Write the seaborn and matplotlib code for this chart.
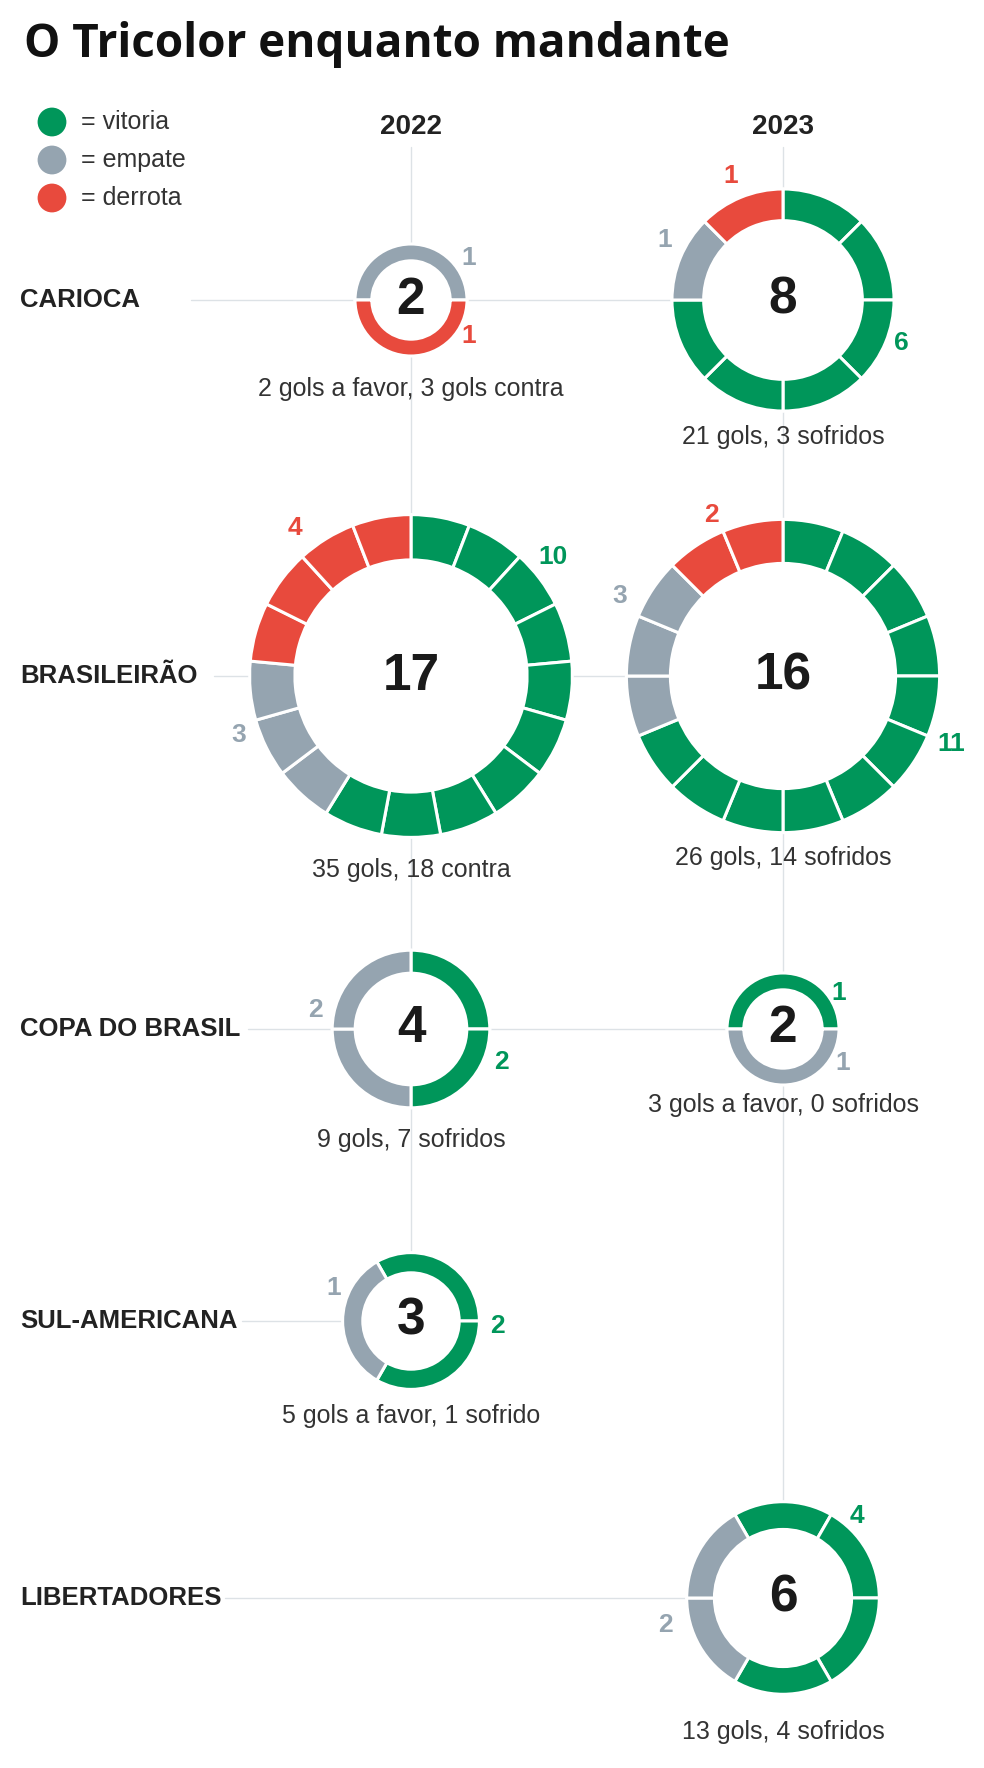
import numpy as np
import pandas as pd
import matplotlib.pyplot as plt
import seaborn as sns

# data
competitions = ["CARIOCA", "BRASILEIRÃO", "COPA DO BRASIL", "SUL-AMERICANA", "LIBERTADORES"]
seasons = ["2022", "2023"]
results = ["vitoria", "empate", "derrota"]

wins_2022 = [0, 10, 2, 2, 0]
draws_2022 = [1, 3, 2, 1, 0]
losses_2022 = [1, 4, 0, 0, 0]
wins_2023 = [6, 11, 1, 0, 4]
draws_2023 = [1, 3, 1, 0, 2]
losses_2023 = [1, 2, 0, 0, 0]

goals_2022 = ["2 gols a favor, 3 gols contra", "35 gols, 18 contra", "9 gols, 7 sofridos",
              "5 gols a favor, 1 sofrido", None]
goals_2023 = ["21 gols, 3 sofridos", "26 gols, 14 sofridos", "3 gols a favor, 0 sofridos",
              None, "13 gols, 4 sofridos"]

colors = {"vitoria": "#00965a", "empate": "#95a4b0", "derrota": "#e84a3d"}

rows = []
for season, w, d, l in [("2022", wins_2022, draws_2022, losses_2022),
                        ("2023", wins_2023, draws_2023, losses_2023)]:
    for i, comp in enumerate(competitions):
        for res, val in zip(results, [w[i], d[i], l[i]]):
            rows.append({"competition": comp, "season": season, "result": res, "games": val})
df = pd.DataFrame(rows)

# layout (pixels, measured from top)
W, H = 984, 1768
col_x = {"2022": 411, "2023": 783}
row_y = dict(zip(competitions, [300, 676, 1029, 1321, 1598]))
line_start = dict(zip(competitions, [191, 214, 248, 242, 225]))
radius_k = 38.9
ring_frac = 0.27

start_clock = {("CARIOCA", "2022"): 270, ("COPA DO BRASIL", "2022"): 0,
               ("COPA DO BRASIL", "2023"): 270, ("SUL-AMERICANA", "2022"): 330,
               ("LIBERTADORES", "2023"): 330}
# label (clock angle, distance from centre)
label_pos = {
    ("CARIOCA", "2022"): {"empate": (54, 71), "derrota": (122, 68)},
    ("CARIOCA", "2023"): {"derrota": (337, 135), "empate": (297, 133), "vitoria": (110, 126)},
    ("BRASILEIRÃO", "2022"): {"derrota": (322, 188), "vitoria": (50, 185), "empate": (251, 182)},
    ("BRASILEIRÃO", "2023"): {"derrota": (336, 176), "empate": (296, 182), "vitoria": (112, 182)},
    ("COPA DO BRASIL", "2022"): {"empate": (281, 97), "vitoria": (110, 96)},
    ("COPA DO BRASIL", "2023"): {"vitoria": (57, 66), "empate": (120, 69)},
    ("SUL-AMERICANA", "2022"): {"empate": (293, 84), "vitoria": (93, 87)},
    ("LIBERTADORES", "2023"): {"vitoria": (42, 111), "empate": (257, 121)},
}
caption_gap = {("CARIOCA", "2022"): 34, ("CARIOCA", "2023"): 27, ("BRASILEIRÃO", "2022"): 34,
               ("BRASILEIRÃO", "2023"): 26, ("COPA DO BRASIL", "2022"): 33,
               ("COPA DO BRASIL", "2023"): 21, ("SUL-AMERICANA", "2022"): 28,
               ("LIBERTADORES", "2023"): 39}

NARROW = ["Liberation Sans Narrow", "Liberation Sans", "DejaVu Sans"]
WIDE = ["Liberation Sans", "DejaVu Sans"]
line_col = "#dde2e6"


def Y(y):
    return H - y


sns.set_theme(style="white")
plt.rcParams["font.family"] = NARROW

fig = plt.figure(figsize=(W / 100, H / 100), dpi=100)
ax = fig.add_axes([0, 0, 1, 1])

# title and legend
ax.text(24, Y(45), "O Tricolor enquanto mandante", fontsize=33, fontweight="bold",
        family=["Open Sans", "DejaVu Sans"], color="#111111", va="center", ha="left")
leg = pd.DataFrame({"x": [52, 52, 52], "y": [Y(122), Y(160), Y(198)], "result": results})
sns.scatterplot(data=leg, x="x", y="y", hue="result", palette=colors, s=430,
                linewidth=0, legend=False, ax=ax, zorder=5)
for _, r in leg.iterrows():
    ax.text(81, r["y"], "= " + r["result"], fontsize=18, color="#333333", va="center")

for season in seasons:
    ax.text(col_x[season], Y(127), season, fontsize=20, fontweight="bold", family=WIDE,
            color="#222222", ha="center", va="center")

# connector lines
for season in seasons:
    sub = df[(df.season == season)].groupby("competition", sort=False)["games"].sum()
    last = [c for c in competitions if sub[c] > 0][-1]
    ax.plot([col_x[season]] * 2, [Y(147), Y(row_y[last])], color=line_col, lw=1, zorder=1)

for comp in competitions:
    sub = df[df.competition == comp].groupby("season")["games"].sum()
    last = [s for s in seasons if sub[s] > 0][-1]
    ax.plot([line_start[comp], col_x[last]], [Y(row_y[comp])] * 2, color=line_col, lw=1, zorder=1)
    ax.text(20, Y(row_y[comp]), comp, fontsize=18.5, fontweight="bold", family=WIDE,
            color="#222222", va="center", ha="left")

# rings
for (comp, season), g in df.groupby(["competition", "season"], sort=False):
    n = g["games"].sum()
    if n == 0:
        continue
    cx, cy = col_x[season], Y(row_y[comp])
    r = radius_k * np.sqrt(n)
    seg_colors = []
    for res, val in zip(g["result"], g["games"]):
        seg_colors += [colors[res]] * int(val)
    ax.add_patch(plt.Circle((cx, cy), r, color="white", zorder=2))
    start = 90 - start_clock.get((comp, season), 0)
    ax.pie([1] * n, colors=seg_colors, startangle=start, counterclock=False,
           center=(cx, cy), radius=r + 1,
           wedgeprops=dict(width=r * ring_frac + 2, edgecolor="white", linewidth=2.2, zorder=3))
    ax.text(cx, cy, str(n), fontsize=37, fontweight="bold", color="#1a1a1a",
            ha="center", va="center", zorder=4)
    for res, (ang, dist) in label_pos[(comp, season)].items():
        val = int(g.loc[g.result == res, "games"].iloc[0])
        a = np.deg2rad(ang)
        ax.text(cx + dist * np.sin(a), cy + dist * np.cos(a), str(val), fontsize=19,
                fontweight="bold", color=colors[res], ha="center", va="center", zorder=4)
    cap = (goals_2022 if season == "2022" else goals_2023)[competitions.index(comp)]
    ax.text(cx, cy - r - caption_gap[(comp, season)], cap, fontsize=18, color="#333333",
            ha="center", va="center", zorder=4)

ax.set_xlim(0, W)
ax.set_ylim(0, H)
ax.set_aspect("equal")
ax.axis("off")
fig.savefig("out.png", dpi=100, facecolor="white")
